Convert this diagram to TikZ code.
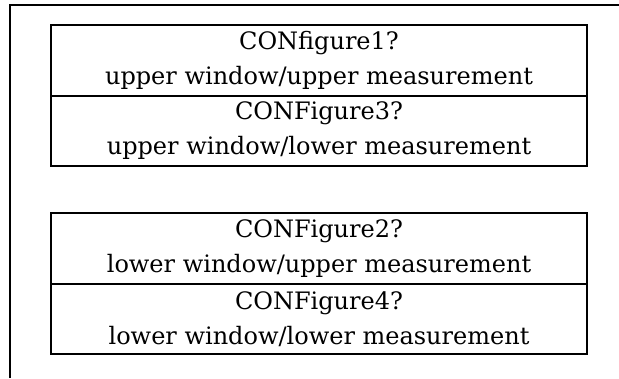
\documentclass[tikz,border=0pt]{standalone}
\usepackage{fontspec}
\setmainfont{DejaVu Serif}
\usetikzlibrary{positioning}

\tikzset{
    cell/.style={draw=black, line width=2pt, outer sep=0pt, inner sep=0pt,
        minimum width=536pt, minimum height=70.5pt, align=center,
        font=\fontsize{24}{35}\selectfont}
}

\begin{document}
\begin{tikzpicture}[x=1pt,y=-1pt]
    \useasboundingbox (0,0) rectangle (619,378);

    % outer frame
    \draw[black, line width=2pt] (10,378) -- (10,4.5) -- (619,4.5);

    % upper window
    \node[cell] (cfg1) at (319,60.25) {CONfigure1?\\upper window/upper measurement};
    \node[cell, below=0pt of cfg1] (cfg3) {CONFigure3?\\upper window/lower measurement};

    % lower window
    \node[cell] (cfg2) at (319,248.25) {CONFigure2?\\lower window/upper measurement};
    \node[cell, below=0pt of cfg2] (cfg4) {CONFigure4?\\lower window/lower measurement};
\end{tikzpicture}
\end{document}
